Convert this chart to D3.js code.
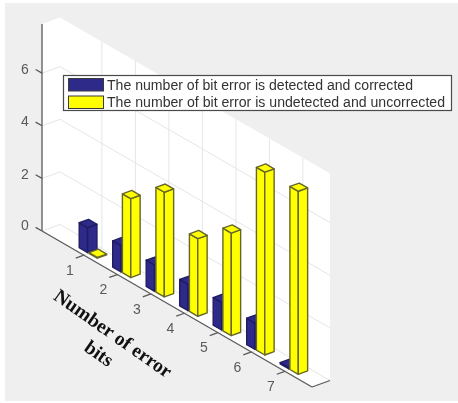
<!DOCTYPE html>
<html>
<head>
<meta charset="utf-8">
<script src="https://cdn.jsdelivr.net/npm/d3@7"></script>
<style>
  html, body { margin: 0; padding: 0; background: #fff; }
  svg { display: block; filter: blur(0.45px); }
</style>
</head>
<body>
<script>
const categories = [1, 2, 3, 4, 5, 6, 7];
const detected = [0.95, 1, 1, 1, 1.05, 1, 0.05];
const undetected = [0.03, 3, 3.98, 2.95, 3.9, 6.95, 6.96];
const zTicks = [0, 2, 4, 6];
const seriesNames = [
  "The number of bit error is detected and corrected",
  "The number of bit error is undetected and uncorrected"
];
const seriesColors = ["#2e2a8a", "#ffff00"];

const totalWidth = 458;
const totalHeight = 403;
const xMin = -0.25, xMax = 7.81, zMax = 7.87;

// oblique projection, one scale per screen component
const catX = d3.scaleLinear().domain([xMin, xMax]).range([0, 270]);
const catY = d3.scaleLinear().domain([xMin, xMax]).range([0, 156]);
const depthX = d3.scaleLinear().domain([0, 1]).range([0, 18]);
const depthY = d3.scaleLinear().domain([0, 1]).range([0, -6.5]);
const zY = d3.scaleLinear().domain([0, zMax]).range([0, -207]);
const origin = [42, 231];

const project = (v, d, z) => [
  origin[0] + catX(v) + depthX(d),
  origin[1] + catY(v) + depthY(d) + zY(z)
];
const pathOf = pts => "M" + pts.map(p => p.join(",")).join("L") + "Z";
const segment = (a, b) => `M${a[0]},${a[1]}L${b[0]},${b[1]}`;

const svg = d3.select("body").append("svg")
  .attr("width", totalWidth)
  .attr("height", totalHeight);

// figure background
svg.append("rect")
  .attr("x", 5).attr("y", 3)
  .attr("width", totalWidth - 5).attr("height", totalHeight - 5)
  .attr("fill", "#efefef");

// walls and floor
const walls = [
  [[xMin, 0, 0], [xMax, 0, 0], [xMax, 1, 0], [xMin, 1, 0]],
  [[xMin, 1, 0], [xMax, 1, 0], [xMax, 1, zMax], [xMin, 1, zMax]],
  [[xMin, 0, 0], [xMin, 1, 0], [xMin, 1, zMax], [xMin, 0, zMax]]
];
svg.append("g").selectAll("path")
  .data(walls)
  .enter()
  .append("path")
  .attr("d", w => pathOf(w.map(p => project(...p))))
  .attr("fill", "#fff");

// grid
const grid = svg.append("g")
  .attr("stroke", "#e6e6e6")
  .attr("fill", "none")
  .attr("stroke-width", 1);

zTicks.forEach(z => {
  grid.append("path")
    .attr("d", "M" + [project(xMin, 0, z), project(xMin, 1, z), project(xMax, 1, z)].map(p => p.join(",")).join("L"));
});
categories.forEach(c => {
  grid.append("path")
    .attr("d", "M" + [project(c, 0, 0), project(c, 1, 0), project(c, 1, zMax)].map(p => p.join(",")).join("L"));
});

// axes
const axes = svg.append("g")
  .attr("stroke", "#5a5a5a")
  .attr("fill", "none")
  .attr("stroke-width", 1.3);

axes.append("path").attr("d", segment(project(xMin, 0, 0), project(xMin, 0, zMax)));
axes.append("path").attr("d", segment(project(xMin, 0, 0), project(xMax, 0, 0)));
axes.append("path").attr("d", segment(project(xMax, 0, 0), project(xMax, 1, 0)));

zTicks.forEach(z => {
  axes.append("path").attr("d", segment(project(xMin - 0.19, 0, z), project(xMin, 0, z)));
});
categories.forEach(c => {
  axes.append("path").attr("d", segment(project(c, -0.45, 0), project(c, 0, 0)));
});

const tickFont = "'Liberation Sans', Arial, sans-serif";

svg.append("g").selectAll("text")
  .data(zTicks)
  .enter()
  .append("text")
  .attr("x", d => project(xMin, 0, d)[0] - 17)
  .attr("y", d => project(xMin, 0, d)[1] - (d === 0 ? 5 : 3))
  .attr("text-anchor", "middle")
  .attr("dominant-baseline", "middle")
  .attr("font-family", tickFont)
  .attr("font-size", 14)
  .attr("fill", "#5a5a5a")
  .text(d => d);

svg.append("g").selectAll("text")
  .data(categories)
  .enter()
  .append("text")
  .attr("x", d => project(d, 0, 0)[0] - 14)
  .attr("y", d => project(d, 0, 0)[1] + 16)
  .attr("text-anchor", "middle")
  .attr("dominant-baseline", "middle")
  .attr("font-family", tickFont)
  .attr("font-size", 14)
  .attr("fill", "#5a5a5a")
  .text(d => d);

// bars, far to near
const barWidth = 0.25, d0 = 0.28, d1 = 0.8;
const edges = ["#1f1c62", "#66662a"];

const bars = [];
categories.forEach((c, i) => {
  bars.push({ v0: c - 0.29, v1: c - 0.29 + barWidth, z: detected[i], s: 0 });
  bars.push({ v0: c, v1: c + barWidth, z: undetected[i], s: 1 });
});

const barG = svg.append("g").selectAll("g")
  .data(bars)
  .enter()
  .append("g")
  .attr("fill", d => seriesColors[d.s])
  .attr("stroke", d => edges[d.s])
  .attr("stroke-width", 1.4)
  .attr("stroke-linejoin", "round");

barG.append("path")
  .attr("d", d => pathOf([
    project(d.v0, d0, 0), project(d.v1, d0, 0), project(d.v1, d0, d.z), project(d.v0, d0, d.z)
  ]));
barG.append("path")
  .attr("d", d => pathOf([
    project(d.v1, d0, 0), project(d.v1, d1, 0), project(d.v1, d1, d.z), project(d.v1, d0, d.z)
  ]));
barG.append("path")
  .attr("d", d => pathOf([
    project(d.v0, d0, d.z), project(d.v1, d0, d.z), project(d.v1, d1, d.z), project(d.v0, d1, d.z)
  ]));

// legend
const legend = svg.append("g").attr("transform", "translate(63.5,75.5)");
legend.append("rect")
  .attr("width", 388).attr("height", 35)
  .attr("fill", "#fff")
  .attr("stroke", "#4a4a4a")
  .attr("stroke-width", 1.2);

seriesNames.forEach((name, i) => {
  const row = legend.append("g").attr("transform", `translate(5,${3 + i * 17.5})`);
  row.append("rect")
    .attr("width", 35).attr("height", 12.5)
    .attr("fill", seriesColors[i])
    .attr("stroke", "#3a3a3a");
  row.append("text")
    .attr("x", 38.5).attr("y", 11)
    .attr("font-family", tickFont)
    .attr("font-size", 14)
    .attr("fill", "#333")
    .attr("textLength", i === 0 ? 306 : 338)
    .attr("lengthAdjust", "spacingAndGlyphs")
    .text(name);
});

// x label
const xLabel = svg.append("g")
  .attr("font-family", "'Liberation Serif', 'Times New Roman', serif")
  .attr("font-weight", "bold")
  .attr("font-size", 19.5)
  .attr("fill", "#111")
  .attr("text-anchor", "middle");

xLabel.append("text")
  .attr("transform", "translate(112,335) rotate(35)")
  .attr("dominant-baseline", "middle")
  .text("Number of error");
xLabel.append("text")
  .attr("transform", "translate(98,355) rotate(35)")
  .attr("dominant-baseline", "middle")
  .text("bits");
</script>
</body>
</html>
